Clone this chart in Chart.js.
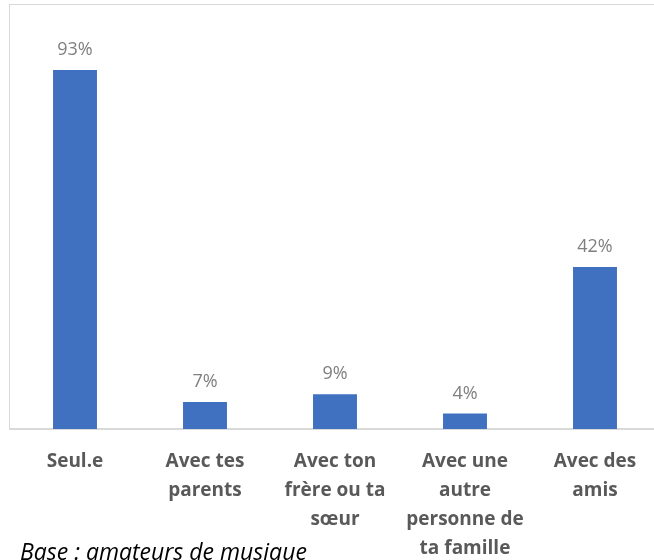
<!DOCTYPE html>
<html>
<head>
<meta charset="utf-8">
<script src="https://cdn.jsdelivr.net/npm/chart.js@4.4.1/dist/chart.umd.min.js"></script>
<style>
  html, body { margin: 0; padding: 0; background: #fff; overflow: hidden; }
  #wrap { position: relative; width: 654px; height: 560px; overflow: hidden; }
  #chart { position: absolute; left: 0; top: 0; }
  #note {
    position: absolute; left: 20px; top: 540px;
    font-family: "Open Sans", sans-serif; font-style: italic;
    font-size: 23px; line-height: 23px; color: #000; white-space: nowrap;
  }
</style>
</head>
<body>
<div id="wrap">
  <canvas id="chart" width="670" height="573"></canvas>
  <div id="note">Base : amateurs de musique</div>
</div>
<script>
// categories (multi-line tick labels) and percentages
const categories = [
    ['Seul.e'],
    ['Avec tes', 'parents'],
    ['Avec ton', 'frère ou ta', 'sœur'],
    ['Avec une', 'autre', 'personne de', 'ta famille'],
    ['Avec des', 'amis']
];
const values = [93, 7, 9, 4, 42];

// -------------------- Frame around the plot --------------------
const frame = {
    id: 'frame',
    beforeDraw(chart) {
        const { ctx, chartArea } = chart;
        ctx.save();
        ctx.strokeStyle = '#d9d9d9';
        ctx.lineWidth = 1;
        ctx.strokeRect(chartArea.left - 0.5, 4.5, chart.width, chartArea.bottom - 4.5);
        ctx.restore();
    }
};

// -------------------- Value labels above bars --------------------
const valueLabels = {
    id: 'valueLabels',
    afterDatasetsDraw(chart) {
        const { ctx } = chart;
        const meta = chart.getDatasetMeta(0);
        ctx.save();
        ctx.font = '18px "Open Sans", sans-serif';
        ctx.fillStyle = '#7f7f7f';
        ctx.textAlign = 'center';
        ctx.textBaseline = 'bottom';
        meta.data.forEach((bar, i) => {
            ctx.fillText(values[i] + '%', bar.x, bar.y - 11);
        });
        ctx.restore();
    }
};

new Chart(document.getElementById('chart'), {
    type: 'bar',
    data: {
        labels: categories,
        datasets: [{
            data: values,
            backgroundColor: '#4070c0',
            barPercentage: 0.338,
            categoryPercentage: 1
        }]
    },
    options: {
        responsive: false,
        animation: false,
        layout: { padding: { left: 10, right: 10, top: 43, bottom: 0 } },
        plugins: {
            legend: { display: false },
            tooltip: { enabled: false }
        },
        scales: {
            x: {
                grid: { display: false },
                border: { color: '#d9d9d9', width: 2 },
                ticks: {
                    color: '#595959',
                    padding: 10,
                    maxRotation: 0,
                    autoSkip: false,
                    font: { family: '"Open Sans", sans-serif', size: 19, weight: 'bold', lineHeight: '29px' }
                }
            },
            y: {
                display: false,
                min: 0,
                max: 100
            }
        }
    },
    plugins: [frame, valueLabels]
});
</script>
</body>
</html>
